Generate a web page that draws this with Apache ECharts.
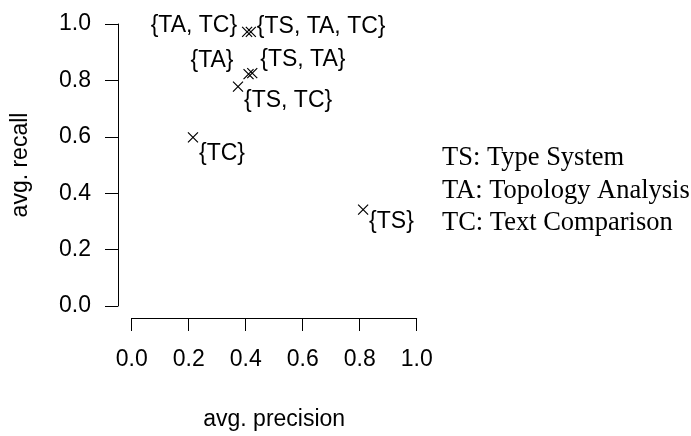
<!DOCTYPE html>
<html>
<head>
<meta charset="utf-8">
<script src="https://cdn.jsdelivr.net/npm/echarts@6/dist/echarts.min.js"></script>
<style>html,body{margin:0;padding:0;background:#fff}#c{width:691px;height:436px}</style>
</head>
<body>
<div id="c"></div>
<script>
// ---- data ----
const pointNames = ['{TA, TC}', '{TS, TA, TC}', '{TA}', '{TS, TA}', '{TS, TC}', '{TC}', '{TS}'];
const precision  = [0.405, 0.418, 0.410, 0.423, 0.373, 0.215, 0.812];
const recall     = [0.972, 0.972, 0.822, 0.826, 0.778, 0.598, 0.342];
const axisTicks  = [0, 0.2, 0.4, 0.6, 0.8, 1.0];
const legendLines = ['TS: Type System', 'TA: Topology Analysis', 'TC: Text Comparison'];
const xTitle = 'avg. precision';
const yTitle = 'avg. recall';

// ---- label placement styles (per point) ----
const labelStyles = {
  '{TA, TC}':     {align: 'right', offset: [-10, -6]},
  '{TS, TA, TC}': {align: 'left',  offset: [6, -5]},
  '{TA}':         {align: 'right', offset: [-15, -14]},
  '{TS, TA}':     {align: 'left',  offset: [8, -13]},
  '{TS, TC}':     {align: 'left',  offset: [6, 14]},
  '{TC}':         {align: 'left',  offset: [6, 16]},
  '{TS}':         {align: 'left',  offset: [6, 12]}
};

const SANS = 'Liberation Sans, Arial, sans-serif';
const SERIF = 'Liberation Serif, Times New Roman, serif';

const data = pointNames.map((n, i) => ({
  value: [precision[i], recall[i]],
  name: n,
  label: {
    show: true,
    formatter: n,
    position: 'inside',
    align: labelStyles[n].align,
    verticalAlign: 'middle',
    offset: labelStyles[n].offset,
    color: '#000',
    opacity: 1,
    textBorderWidth: 0,
    fontFamily: SANS,
    fontSize: 23
  }
}));

const chart = echarts.init(document.getElementById('c'), null, {renderer: 'canvas'});
chart.setOption({
  animation: false,
  backgroundColor: '#fff',
  grid: {left: 131.7, right: 274.3, top: 24, bottom: 128, containLabel: false},
  xAxis: {
    type: 'value', min: 0, max: 1, interval: 0.2,
    offset: 12,
    splitLine: {show: false},
    axisLine: {show: true, onZero: false, lineStyle: {color: '#000', width: 1}},
    axisTick: {show: true, length: 13, lineStyle: {color: '#000', width: 1}},
    axisLabel: {margin: 30, color: '#000', fontFamily: SANS, fontSize: 23,
      formatter: v => v.toFixed(1)},
    name: xTitle, nameLocation: 'middle', nameGap: 90,
    nameTextStyle: {color: '#000', fontFamily: SANS, fontSize: 23}
  },
  yAxis: {
    type: 'value', min: 0, max: 1, interval: 0.2,
    offset: 13.7,
    splitLine: {show: false},
    axisLine: {show: true, onZero: false, lineStyle: {color: '#000', width: 1}},
    axisTick: {show: true, length: 13, lineStyle: {color: '#000', width: 1}},
    axisLabel: {margin: 27, color: '#000', fontFamily: SANS, fontSize: 23,
      formatter: v => v.toFixed(1)},
    name: yTitle, nameLocation: 'middle', nameGap: 86, nameRotate: 90,
    nameTextStyle: {color: '#000', fontFamily: SANS, fontSize: 23}
  },
  series: [{
    type: 'scatter',
    data: data,
    symbol: 'path://M0,0L10,10M10,0L0,10',
    symbolSize: 10,
    itemStyle: {color: 'rgba(0,0,0,0)', borderColor: '#000', borderWidth: 1.2, opacity: 1},
    emphasis: {disabled: true}
  }],
  graphic: legendLines.map((t, i) => ({
    type: 'text',
    left: 442,
    top: 145 + i * 32.5,
    style: {text: t, fill: '#000', font: '26.5px ' + SERIF}
  }))
});
</script>
</body>
</html>
